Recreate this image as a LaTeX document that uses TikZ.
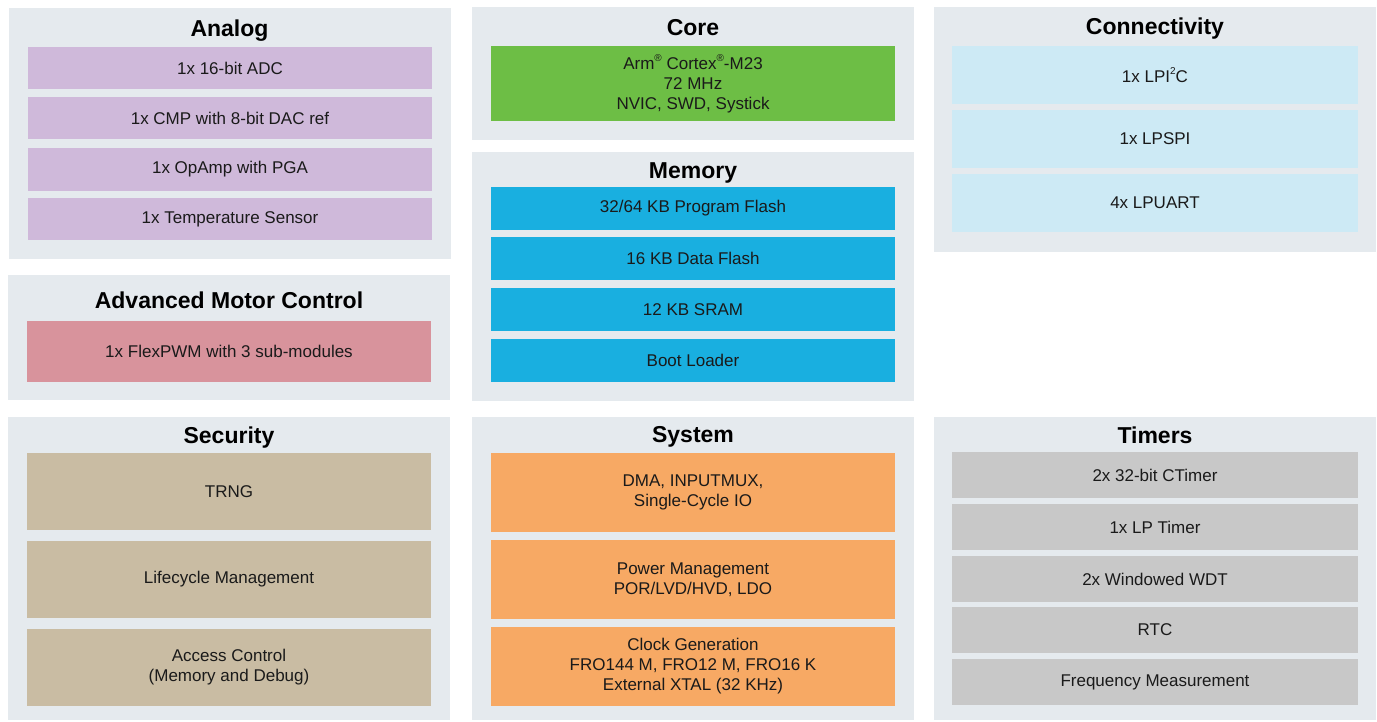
\documentclass[tikz,border=0pt]{standalone}
\usepackage{fontspec}
\setmainfont{Liberation Sans}
\definecolor{panelbg}{HTML}{E5EAEE}
\definecolor{analogc}{HTML}{CFB9DA}
\definecolor{motorc}{HTML}{D8939C}
\definecolor{corec}{HTML}{6DBE45}
\definecolor{memc}{HTML}{19AFE0}
\definecolor{connc}{HTML}{CDEAF5}
\definecolor{secc}{HTML}{C9BCA3}
\definecolor{sysc}{HTML}{F7A964}
\definecolor{timc}{HTML}{C8C8C8}
\definecolor{txt}{HTML}{1A1A1A}
\newcommand\blk[7]{\node[#6, minimum width={(#4-#2)*1pt}, minimum height={(#5-#3)*1pt}] (#1) at ({(#2+#4)/2},{(#3+#5)/2}) {#7};}
\newcommand\sm[1]{\raisebox{0.45em}{\fontsize{10}{10}\selectfont #1}}
\begin{document}
\begin{tikzpicture}[x=1pt,y=-1pt,
  panel/.style={fill=panelbg, draw=none, inner sep=0pt, outer sep=0pt},
  item/.style={draw=none, inner sep=0pt, outer sep=0pt, align=center, text=txt,
    font=\fontsize{17}{20}\selectfont},
  ttl/.style={anchor=base, inner sep=0pt, text=black, font=\fontsize{23}{26}\selectfont\bfseries},
  analog/.style={item, fill=analogc},
  motor/.style={item, fill=motorc},
  core/.style={item, fill=corec},
  mem/.style={item, fill=memc},
  conn/.style={item, fill=connc},
  sec/.style={item, fill=secc},
  sys/.style={item, fill=sysc},
  tim/.style={item, fill=timc}]
\useasboundingbox (0,0) rectangle (1377,721);
\fill[white] (0,0) rectangle (1377,721);
% panels
\blk{pAnalog}{9}{8}{451}{259}{panel}{}
\blk{pMotor}{8}{275}{450}{400}{panel}{}
\blk{pSec}{8}{417}{450}{720}{panel}{}
\blk{pCore}{472}{7}{914}{140}{panel}{}
\blk{pMem}{472}{152}{914}{401}{panel}{}
\blk{pSys}{472}{417}{914}{720}{panel}{}
\blk{pConn}{934}{7}{1376}{252}{panel}{}
\blk{pTim}{934}{417}{1376}{720}{panel}{}
% titles
\node[ttl] (tAnalog) at (229.5,36) {Analog};
\node[ttl] (tMotor) at (229,308) {Advanced Motor Control};
\node[ttl] (tSec) at (229,443) {Security};
\node[ttl] (tCore) at (693,35) {Core};
\node[ttl] (tMem) at (693,178) {Memory};
\node[ttl] (tSys) at (693,442) {System};
\node[ttl] (tConn) at (1155,34) {Connectivity};
\node[ttl] (tTim) at (1155,443) {Timers};
% analog
\blk{a1}{28}{47}{432}{89}{analog}{1x 16-bit ADC}
\blk{a2}{28}{97}{432}{139}{analog}{1x CMP with 8-bit DAC ref}
\blk{a3}{28}{148}{432}{191}{analog}{1x OpAmp with PGA}
\blk{a4}{28}{198}{432}{240}{analog}{1x Temperature Sensor}
% motor
\blk{m1}{27}{321}{431}{382}{motor}{1x FlexPWM with 3 sub-modules}
% security
\blk{s1}{27}{453}{431}{530}{sec}{TRNG}
\blk{s2}{27}{541}{431}{618}{sec}{Lifecycle Management}
\blk{s3}{27}{629}{431}{706}{sec}{Access Control\\(Memory and Debug)}
% core
\blk{c1}{491}{46}{895}{121}{core}{Arm\sm{®} Cortex\sm{®}-M23\\72 MHz\\NVIC, SWD, Systick}
% memory
\blk{me1}{491}{187}{895}{230}{mem}{32/64 KB Program Flash}
\blk{me2}{491}{237}{895}{280}{mem}{16 KB Data Flash}
\blk{me3}{491}{288}{895}{331}{mem}{12 KB SRAM}
\blk{me4}{491}{339}{895}{382}{mem}{Boot Loader}
% system
\blk{sy1}{491}{453}{895}{532}{sys}{DMA, INPUTMUX,\\ Single-Cycle IO}
\blk{sy2}{491}{540}{895}{619}{sys}{Power Management\\POR/LVD/HVD, LDO}
\blk{sy3}{491}{627}{895}{706}{sys}{Clock Generation\\FRO144 M, FRO12 M, FRO16 K\\External XTAL (32 KHz)}
% connectivity
\blk{co1}{952}{46}{1358}{104}{conn}{1x LPI\sm{2}C}
\blk{co2}{952}{110}{1358}{168}{conn}{1x LPSPI}
\blk{co3}{952}{174}{1358}{232}{conn}{4x LPUART}
% timers
\blk{ti1}{952}{452}{1358}{498}{tim}{2x 32-bit CTimer}
\blk{ti2}{952}{504}{1358}{550}{tim}{1x LP Timer}
\blk{ti3}{952}{556}{1358}{602}{tim}{2x Windowed WDT}
\blk{ti4}{952}{607}{1358}{653}{tim}{RTC}
\blk{ti5}{952}{659}{1358}{705}{tim}{Frequency Measurement}
\end{tikzpicture}
\end{document}
